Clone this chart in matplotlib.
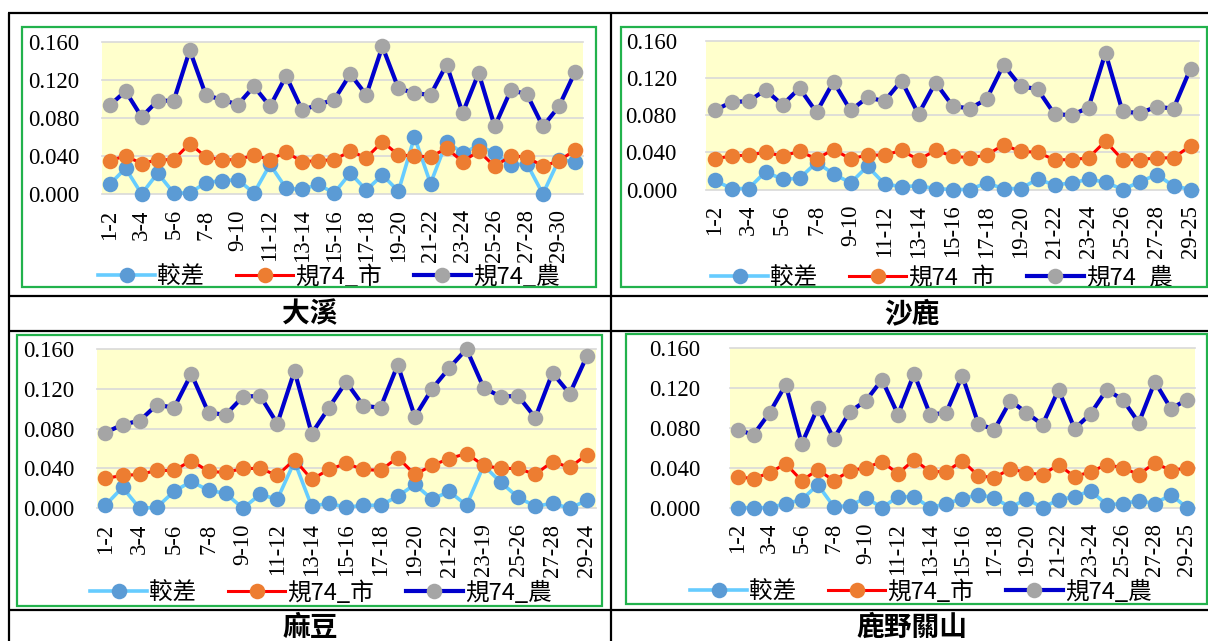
import matplotlib
matplotlib.use("Agg")
import matplotlib.pyplot as plt
from matplotlib.font_manager import FontProperties
from matplotlib.patches import Rectangle

W, H = 1208, 641

series_names = ["較差", "規74_市", "規74_農"]
line_colors = ["#66CCFF", "#FF0000", "#0000CC"]
marker_colors = ["#5B9BD5", "#ED7D31", "#A5A5A5"]
line_widths = [2.6, 2.2, 3.0]

y_ticks = [0.0, 0.04, 0.08, 0.12, 0.16]

# 大溪 (30 pairs)
daxi_labels = ["1-2", "3-4", "5-6", "7-8", "9-10", "11-12", "13-14", "15-16",
               "17-18", "19-20", "21-22", "23-24", "25-26", "27-28", "29-30"]
daxi_diff = [0.010, 0.027, 0.000, 0.022, 0.001, 0.001, 0.012, 0.014, 0.015, 0.001,
             0.031, 0.006, 0.005, 0.010, 0.001, 0.022, 0.004, 0.020, 0.003, 0.060,
             0.011, 0.055, 0.043, 0.051, 0.043, 0.030, 0.032, 0.000, 0.036, 0.034]
daxi_city = [0.035, 0.040, 0.032, 0.036, 0.036, 0.053, 0.039, 0.036, 0.036, 0.041,
             0.036, 0.044, 0.034, 0.035, 0.036, 0.045, 0.038, 0.055, 0.041, 0.040,
             0.039, 0.048, 0.034, 0.045, 0.029, 0.040, 0.039, 0.029, 0.035, 0.046]
daxi_farm = [0.093, 0.108, 0.081, 0.098, 0.098, 0.151, 0.104, 0.099, 0.094, 0.113,
             0.092, 0.124, 0.088, 0.094, 0.099, 0.126, 0.104, 0.155, 0.111, 0.106,
             0.104, 0.136, 0.085, 0.127, 0.071, 0.109, 0.105, 0.071, 0.092, 0.128]

# 沙鹿 (29 pairs)
shalu_labels = ["1-2", "3-4", "5-6", "7-8", "9-10", "11-12", "13-14", "15-16",
                "17-18", "19-20", "21-22", "23-24", "25-26", "27-28", "29-25"]
shalu_diff = [0.010, 0.001, 0.001, 0.019, 0.011, 0.012, 0.029, 0.017, 0.007, 0.025,
              0.006, 0.003, 0.004, 0.001, 0.000, 0.000, 0.007, 0.001, 0.001, 0.011,
              0.005, 0.007, 0.011, 0.008, 0.000, 0.008, 0.016, 0.004, 0.000]
shalu_city = [0.033, 0.036, 0.037, 0.040, 0.036, 0.041, 0.033, 0.043, 0.033, 0.037,
              0.037, 0.042, 0.032, 0.042, 0.036, 0.034, 0.037, 0.048, 0.041, 0.040,
              0.032, 0.032, 0.034, 0.052, 0.032, 0.032, 0.034, 0.034, 0.047]
shalu_farm = [0.085, 0.094, 0.095, 0.107, 0.091, 0.109, 0.083, 0.116, 0.085, 0.099,
              0.095, 0.117, 0.081, 0.115, 0.090, 0.087, 0.097, 0.134, 0.111, 0.108,
              0.081, 0.080, 0.088, 0.147, 0.084, 0.082, 0.089, 0.087, 0.130]

# 麻豆 (29 pairs)
madou_labels = ["1-2", "3-4", "5-6", "7-8", "9-10", "11-12", "13-14", "15-16",
                "17-18", "19-20", "21-22", "23-19", "25-26", "27-28", "29-24"]
madou_diff = [0.003, 0.021, 0.000, 0.001, 0.017, 0.027, 0.018, 0.015, 0.000, 0.014,
              0.009, 0.047, 0.002, 0.005, 0.001, 0.003, 0.003, 0.012, 0.024, 0.009,
              0.017, 0.003, 0.043, 0.026, 0.011, 0.002, 0.005, 0.000, 0.008]
madou_city = [0.030, 0.033, 0.034, 0.038, 0.038, 0.048, 0.037, 0.036, 0.040, 0.040,
              0.033, 0.049, 0.029, 0.039, 0.045, 0.039, 0.038, 0.051, 0.034, 0.043,
              0.050, 0.055, 0.043, 0.040, 0.040, 0.034, 0.047, 0.041, 0.054]
madou_farm = [0.076, 0.084, 0.088, 0.104, 0.101, 0.135, 0.096, 0.094, 0.112, 0.113,
              0.085, 0.138, 0.075, 0.101, 0.127, 0.103, 0.101, 0.144, 0.092, 0.120,
              0.141, 0.160, 0.121, 0.112, 0.113, 0.091, 0.136, 0.115, 0.153]

# 鹿野關山 (29 pairs)
luye_labels = ["1-2", "3-4", "5-6", "7-8", "9-10", "11-12", "13-14", "15-16",
               "17-18", "19-20", "21-22", "23-24", "25-26", "27-28", "29-25"]
luye_diff = [0.000, 0.000, 0.000, 0.004, 0.008, 0.023, 0.001, 0.002, 0.010, 0.000,
             0.011, 0.011, 0.000, 0.004, 0.009, 0.013, 0.010, 0.000, 0.009, 0.000,
             0.008, 0.011, 0.017, 0.003, 0.004, 0.007, 0.004, 0.013, 0.000]
luye_city = [0.031, 0.029, 0.035, 0.044, 0.027, 0.038, 0.027, 0.037, 0.040, 0.046,
             0.034, 0.048, 0.036, 0.036, 0.047, 0.032, 0.030, 0.039, 0.035, 0.033,
             0.043, 0.031, 0.036, 0.043, 0.040, 0.033, 0.045, 0.037, 0.040]
luye_farm = [0.078, 0.073, 0.095, 0.123, 0.064, 0.100, 0.069, 0.096, 0.107, 0.128,
             0.093, 0.134, 0.093, 0.095, 0.132, 0.084, 0.078, 0.107, 0.095, 0.083,
             0.118, 0.079, 0.094, 0.118, 0.108, 0.085, 0.126, 0.099, 0.108]

# layout in pixels: plot area, chart frame, legend centre, y-label gap, cell title
panels = [
    dict(title="大溪", labels=daxi_labels, data=[daxi_diff, daxi_city, daxi_farm],
         plot=(101.5, 41.7, 583, 194), frame=(22, 27, 596, 286.5),
         legend=(329, 277), ygap=22, title_xy=(310, 314)),
    dict(title="沙鹿", labels=shalu_labels, data=[shalu_diff, shalu_city, shalu_farm],
         plot=(706, 40.7, 1199, 189.5), frame=(621, 27, 1207, 287),
         legend=(942, 278), ygap=29, title_xy=(912, 314)),
    dict(title="麻豆", labels=madou_labels, data=[madou_diff, madou_city, madou_farm],
         plot=(96.7, 349, 595.5, 508.3), frame=(17, 335, 602, 606),
         legend=(321, 593), ygap=22, title_xy=(310, 627.5)),
    dict(title="鹿野關山", labels=luye_labels, data=[luye_diff, luye_city, luye_farm],
         plot=(729.5, 347.7, 1195, 507.7), frame=(626, 334, 1207, 604),
         legend=(921, 592), ygap=29.5, title_xy=(912, 627.5)),
]

plt.rcParams["font.family"] = ["Liberation Serif", "DejaVu Serif"]
cjk = ["Noto Sans CJK TC", "DejaVu Sans"]
legend_font = FontProperties(family=cjk, size=17)

fig = plt.figure(figsize=(W / 100, H / 100), dpi=100)
fig.patch.set_facecolor("white")


def px_rect(x0, y0, x1, y1):
    return [x0 / W, 1 - y1 / H, (x1 - x0) / W, (y1 - y0) / H]


for p in panels:
    ax = fig.add_axes(px_rect(*p["plot"]))
    ax.set_facecolor("#FFFFCC")
    n = len(p["data"][0])
    xs = list(range(n))
    for y in y_ticks:
        ax.axhline(y, color="#D9D9D9", lw=1.2, zorder=0.5, clip_on=False)
    for vals, name, lc, mc, lw in zip(p["data"], series_names, line_colors,
                                      marker_colors, line_widths):
        ax.plot(xs, vals, color=lc, lw=lw, marker="o", ms=11.2,
                mfc=mc, mec=mc, mew=0, label=name, clip_on=False, zorder=2)
    ax.set_xlim(-0.5, n - 0.5)
    ax.set_ylim(0, 0.16)
    for s in ax.spines.values():
        s.set_visible(False)
    ax.set_yticks(y_ticks)
    ax.set_yticklabels([f"{t:.3f}" for t in y_ticks], fontsize=16.5)
    ax.set_xticks(list(range(0, n, 2)))
    ax.set_xticklabels(p["labels"], rotation=90, fontsize=16.3)
    ax.tick_params(axis="y", length=0, pad=p["ygap"] * 0.72)
    ax.tick_params(axis="x", length=0, pad=11)
    lx, ly = p["legend"]
    ax.legend(loc="center", bbox_to_anchor=(lx / W, 1 - ly / H),
              bbox_transform=fig.transFigure, ncol=3, frameon=False,
              prop=legend_font, handlelength=2.4, handletextpad=0.1,
              columnspacing=1.35, borderpad=0, numpoints=1)

# table grid, chart frames and cell titles
ov = fig.add_axes([0, 0, 1, 1], zorder=10)
ov.set_xlim(0, W)
ov.set_ylim(H, 0)
ov.axis("off")

for p in panels:
    x0, y0, x1, y1 = p["frame"]
    ov.add_patch(Rectangle((x0 - 4, y1 + 1), x1 - x0 + 8, 8, facecolor="white",
                           edgecolor="none"))
    ov.add_patch(Rectangle((x0, y0), x1 - x0, y1 - y0, facecolor="none",
                           edgecolor="#22B24C", lw=1.6))
    tx, ty = p["title_xy"]
    ov.text(tx, ty, p["title"], ha="center", va="center", fontsize=20,
            fontweight="bold", family=cjk)

grid_kw = dict(color="black", lw=1.6, solid_capstyle="butt")
ov.plot([9, 9], [13, H], **grid_kw)
ov.plot([611, 611], [13, H], **grid_kw)
for y in (13, 296, 331, 610):
    ov.plot([8.2, W], [y, y], **grid_kw)

fig.savefig("out.png", dpi=100, facecolor="white")
